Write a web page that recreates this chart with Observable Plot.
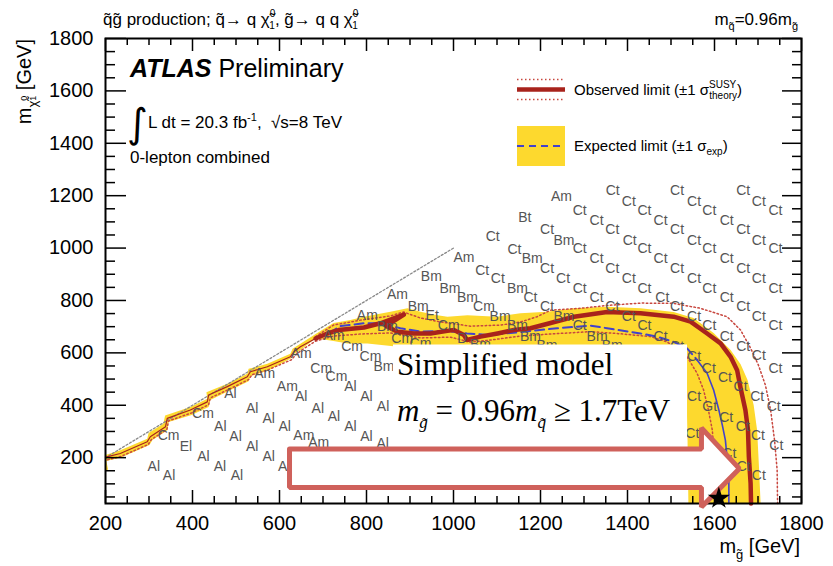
<!DOCTYPE html>
<html><head><meta charset="utf-8">
<script src="https://cdn.jsdelivr.net/npm/d3@7"></script>
<script src="https://cdn.jsdelivr.net/npm/@observablehq/plot@0.6"></script>
<style>body{margin:0;background:#fff;}</style>
</head><body><div id="chart"></div>
<script>
// ---------------- data ----------------
const xMajorTicks = [200,400,600,800,1000,1200,1400,1600,1800];
const yMajorTicks = [200,400,600,800,1000,1200,1400,1600,1800];

// observed limit: staircase part along the diagonal and main contour
const obsStairMg   = [203,234,296,303,338,342,395,434,437,480,526,533,572,625,633,648,683];
const obsStairMchi = [203,216,261,280,318,350,382,413,439,471,509,528,547,585,604,623,655];
const obsMg   = [683,710,736,794,832,886,845,871,909,947,986,1001,1024,1031,1062,1101,1139,1177,1221,1277,1353,1430,1506,1545,1583,1614,1637,1652,1660,1671,1677,1679,1683,1684];
const obsMchi = [655,674,687,697,713,746,703,681,674,674,684,687,668,649,662,674,687,694,713,738,756,751,738,719,674,636,585,534,466,382,305,203,102,25];

// expected limit (dashed upper part, then the steep part)
const expMg   = [683,725,740,794,832,878,924,986,1031,1085,1162,1238,1315,1353,1430,1468,1506,1537,1560];
const expMchi = [655,687,702,713,713,694,681,684,674,668,681,694,704,694,674,662,642,617,573];
const expSteepMg   = [1560,1583,1598,1610,1618,1625,1629,1633,1633];
const expSteepMchi = [573,522,458,382,324,267,199,122,25];

// observed +1 sigma theory
const upMg   = [683,724,786,855,885,924,970,1039,1108,1154,1192,1223,1292,1353,1430,1506,1568,1629,1660,1683,1701,1717,1729,1738,1744,1745];
const upMchi = [662,706,725,741,756,733,718,702,706,718,738,763,770,781,790,789,770,738,687,618,553,477,382,267,153,25];

// observed -1 sigma theory
const dnStairMg   = [205,236,298,306,341,345,398,437,441,483,529,537,575,628,637,652,683];
const dnStairMchi = [192,205,250,270,307,340,371,402,428,460,498,517,536,574,593,612,645];
const dnMg   = [683,724,786,855,924,993,1039,1085,1154,1223,1315,1376,1453,1491,1537,1560,1575,1586,1595,1600,1602];
const dnMchi = [645,664,672,676,657,660,641,649,664,672,681,674,662,642,585,522,458,382,305,191,25];

// expected +-1 sigma band (outline polygon)
const bandMg = [200,234,296,299,333,337,395,434,432,480,526,529,572,625,630,648,683,724,763,794,855,894,924,963,986,1032,1100,1154,1215,1277,1353,1430,1506,1552,1598,1637,1660,1676,1690,1698,1702,1706,
  1540,1538,1536,1531,1513,1476,1338,1108,970,878,802,756,724,683,648,632,628,575,533,529,483,441,437,398,345,342,308,301,237,202,206,200];
const bandMchi = [210,228,272,294,329,361,393,425,450,482,520,539,558,597,616,635,672,714,725,738,757,770,757,744,738,744,738,751,757,770,776,770,756,733,676,611,557,496,401,305,172,25,
  25,267,420,534,588,603,607,607,614,622,636,636,645,656,611,595,580,534,511,492,454,420,393,363,336,305,267,248,202,187,155,150];

// kinematic boundary
const diagMg = [200,1000];
const diagMchi = [200,1000];

// best signal-region labels
const labelText = [
 "Ct","Ct","Ct",
 "Ct","Ct","Ct","Ct","Ct","Ct","Ct",
 "Ct","Ct","Ct","Ct","Ct","Ct","Ct","Ct","Ct","Ct","Ct",
 "Am","Ct","Ct","Ct","Ct","Ct","Ct","Ct","Ct","Ct","Ct","Ct","Ct","Ct",
 "Bt","Ct","Bm","Ct","Ct","Ct","Ct","Ct","Ct","Ct","Ct","Ct","Ct","Ct","Ct","Ct",
 "Ct","Ct","Bm","Ct","Ct","Ct","Ct","Ct","Ct","Ct","Ct","Ct","Ct","Ct","Ct","Ct","Ct","Ct",
 "Am","Ct","Ct","Bm","Ct","Ct","Bm","Ct","Bm","Bm","Ct","Gt","Ct","Ct","Ct","Ct",
 "Bm","Bm","Bm","Cm","Bm","Bm","Bm","Bm","Ct","Ct","Ct","Ct",
 "Am","Bm","Et","Cm","D","Bm",
 "Am","Bm","Cm","Cm",
 "Am","Cm","Cm","Bm",
 "Am","Cm","Cm","Al","Al","Al",
 "Am","Am","Al","Al","Al","Al","Al","Al",
 "Al","Al","Al","Al","Am","Am",
 "Cm","Al","Al","Al","Al","Al",
 "Cm","El","Al","Al","Al",
 "Al","Al"];
const labelMg = [
 1666,1702,1740,
 1514,1553,1588,1628,1666,1702,1740,
 1366,1403,1439,1476,1514,1553,1588,1628,1666,1702,1740,
 1248,1290,1329,1365,1405,1439,1476,1514,1553,1588,1628,1666,1702,1740,
 1164,1215,1254,1290,1329,1365,1403,1439,1480,1514,1553,1588,1628,1666,1702,1740,
 1090,1140,1181,1215,1252,1290,1329,1365,1403,1439,1476,1514,1553,1587,1624,1660,1698,1736,
 1024,1066,1102,1147,1177,1215,1254,1290,1330,1365,1553,1589,1627,1665,1700,1742,
 949,992,1032,1070,1107,1147,1177,1215,1549,1634,1667,1702,
 871,919,951,989,1020,1062,
 802,848,882,924,
 725,767,809,840,
 650,696,731,763,800,838,
 566,618,650,688,725,763,800,837,
 487,537,575,612,656,690,
 424,464,499,537,575,611,
 345,385,425,463,502,
 311,346];
const labelMchi = [
 1219,1177,1142,
 1219,1177,1142,1104,1069,1030,999,
 1219,1177,1142,1104,1069,1030,999,961,922,884,846,
 1198,1142,1104,1069,1030,999,961,922,884,846,812,776,740,706,
 1117,1069,1030,999,961,922,884,846,812,776,740,706,661,623,588,541,
 1043,995,961,922,884,846,812,776,740,706,661,625,585,541,506,471,432,394,
 965,916,884,846,812,776,738,706,661,628,432,394,353,320,283,245,
 890,846,812,776,740,706,661,628,293,216,168,131,
 821,777,744,706,655,630,
 744,700,655,637,
 668,623,585,547,
 598,541,509,471,432,394,
 522,471,432,388,356,318,280,255,
 445,388,350,318,283,256,
 370,318,280,244,203,165,
 286,243,203,165,132,
 166,132];

// annotation overlay (white box, arrow, star), in data units
const boxMg = [862,1538];
const boxMchi = [260,630];
const arrowMg   = [623,1570,1570,1657,1570,1570,623,623];
const arrowMchi = [233,233,313,158,12,86,86,233];
const starMg = [1610];
const starMchi = [45];
const noteMg = [871];
const noteMchi = [515,337];

// ---------------- build ----------------
const zip = (a,b) => a.map((v,i)=>({mg:v, mchi:b[i]}));
const FONT = "'Liberation Sans', Arial, Helvetica, sans-serif";
const YELLOW = "#fdd92e", RED = "#a8231c", RED_DOT = "#c8473f", BLUE = "#4242cc", GRAY = "#555";
const W = 833, H = 566, mL = 105, mR = 32, mT = 38, mB = 63;
const iw = W - mL - mR, ih = H - mT - mB;
const xMinor = d3.range(250,1800,50).filter(v => v % 200 !== 0);
const yMinor = d3.range(50,1800,50).filter(v => v % 200 !== 0);
const labels = labelText.map((t,i)=>({t, mg:labelMg[i], mchi:labelMchi[i]}));

const plot = Plot.plot({
  width: W, height: H,
  marginLeft: mL, marginRight: mR, marginTop: mT, marginBottom: mB,
  style: {fontFamily: FONT, fontSize: "20px", color: "black", background: "white"},
  x: {domain: [200,1800], ticks: xMajorTicks, tickSize: 0, tickPadding: 12, label: null, tickFormat: d3.format("d")},
  y: {domain: [25,1800], ticks: yMajorTicks, tickSize: 0, tickPadding: 12, label: null, tickFormat: d3.format("d")},
  marks: [
    Plot.line(zip(bandMg,bandMchi), {x:"mg", y:"mchi", fill: YELLOW, stroke: "none"}),
    Plot.line(zip(diagMg,diagMchi), {x:"mg", y:"mchi", stroke:"#888", strokeWidth:1.3, strokeDasharray:"2,2"}),
    Plot.line(zip(dnStairMg,dnStairMchi), {x:"mg", y:"mchi", stroke:RED_DOT, strokeWidth:1.5, strokeDasharray:"1.5,2.5"}),
    Plot.line(zip(dnMg,dnMchi), {x:"mg", y:"mchi", stroke:RED_DOT, strokeWidth:1.5, strokeDasharray:"1.5,2.5"}),
    Plot.line(zip(upMg,upMchi), {x:"mg", y:"mchi", stroke:RED_DOT, strokeWidth:1.5, strokeDasharray:"1.5,2.5"}),
    Plot.line(zip(expMg,expMchi), {x:"mg", y:"mchi", stroke:BLUE, strokeWidth:2, strokeDasharray:"9,5"}),
    Plot.line(zip(expSteepMg,expSteepMchi), {x:"mg", y:"mchi", stroke:BLUE, strokeWidth:1.6}),
    Plot.line(zip(obsStairMg,obsStairMchi), {x:"mg", y:"mchi", stroke:RED, strokeWidth:1.2}),
    Plot.line(zip(obsMg,obsMchi), {x:"mg", y:"mchi", stroke:RED, strokeWidth:4.5, strokeLinejoin:"round"}),
    Plot.text(labels, {x:"mg", y:"mchi", text:"t", fill:GRAY, fontSize:14, textAnchor:"middle", lineAnchor:"middle"}),
    Plot.rect([{x1:boxMg[0], x2:boxMg[1], y1:boxMchi[0], y2:boxMchi[1]}], {x1:"x1", x2:"x2", y1:"y1", y2:"y2", fill:"white"}),
    // ticks (inward, mirrored)
    Plot.tickX(xMajorTicks, {x:d=>d, insetTop: ih-13, stroke:"black", strokeWidth:1.5}),
    Plot.tickX(xMinor, {x:d=>d, insetTop: ih-7, stroke:"black", strokeWidth:1.5}),
    Plot.tickX(xMajorTicks, {x:d=>d, insetBottom: ih-13, stroke:"black", strokeWidth:1.5}),
    Plot.tickX(xMinor, {x:d=>d, insetBottom: ih-7, stroke:"black", strokeWidth:1.5}),
    Plot.tickY(yMajorTicks, {y:d=>d, insetRight: iw-21, stroke:"black", strokeWidth:1.5}),
    Plot.tickY(yMinor, {y:d=>d, insetRight: iw-10, stroke:"black", strokeWidth:1.5}),
    Plot.tickY(yMajorTicks, {y:d=>d, insetLeft: iw-19, stroke:"black", strokeWidth:1.5}),
    Plot.tickY(yMinor, {y:d=>d, insetLeft: iw-9, stroke:"black", strokeWidth:1.5}),
    Plot.frame({stroke:"black", strokeWidth:2}),
    Plot.line(zip(arrowMg,arrowMchi), {x:"mg", y:"mchi", fill:"white", stroke:"#cf615b", strokeWidth:5, strokeLinejoin:"miter"}),
    Plot.dot(zip(starMg,starMchi), {x:"mg", y:"mchi", symbol:"star", r:7, fill:"black", stroke:"none"})
  ]
});
document.getElementById("chart").appendChild(plot);

// ---------------- overlay text ----------------
const sx = plot.scale("x"), sy = plot.scale("y");
const svg = d3.select(plot);
const g = svg.append("g").attr("font-family", FONT).attr("fill","black").attr("text-anchor","start");

// header
const t1 = g.append("text").attr("x",103).attr("y",25).attr("font-size",17);
t1.append("tspan").text("q\u0303g\u0303 production; q\u0303\u2192 q \u03c7\u0303");
t1.append("tspan").attr("font-size",10).attr("dy",-8).text("0");
t1.append("tspan").attr("font-size",10).attr("dx",-6).attr("dy",12).text("1");
t1.append("tspan").attr("dy",-4).text(", g\u0303\u2192 q q \u03c7\u0303");
t1.append("tspan").attr("font-size",10).attr("dy",-8).text("0");
t1.append("tspan").attr("font-size",10).attr("dx",-6).attr("dy",12).text("1");

const t2 = g.append("text").attr("x",798).attr("y",25).attr("font-size",17).attr("text-anchor","end");
t2.append("tspan").text("m");
t2.append("tspan").attr("font-size",11).attr("dy",5).text("q\u0303");
t2.append("tspan").attr("dy",-5).text("=0.96m");
t2.append("tspan").attr("font-size",11).attr("dy",5).text("g\u0303");

// axis titles
const yl = g.append("text").attr("transform","translate(31,39) rotate(-90)").attr("text-anchor","end").attr("font-size",20);
yl.append("tspan").text("m");
yl.append("tspan").attr("font-size",13).attr("dy",6).text("\u03c7\u0303");
yl.append("tspan").attr("font-size",9).attr("dy",-10).text("0");
yl.append("tspan").attr("font-size",9).attr("dx",-5).attr("dy",9).text("1");
yl.append("tspan").attr("dy",-5).text(" [GeV]");

const xl = g.append("text").attr("x",800).attr("y",553).attr("text-anchor","end").attr("font-size",20);
xl.append("tspan").text("m");
xl.append("tspan").attr("font-size",13).attr("dy",6).text("g\u0303");
xl.append("tspan").attr("dy",-6).text(" [GeV]");

// ATLAS block
const at = g.append("text").attr("x",130).attr("y",77).attr("font-size",25);
at.append("tspan").attr("font-weight","bold").attr("font-style","italic").text("ATLAS");
at.append("tspan").text(" Preliminary");
g.append("text").attr("x",127).attr("y",137).attr("font-size",40).attr("font-family","'DejaVu Sans', sans-serif").text("\u222b");
const lum = g.append("text").attr("x",148).attr("y",128).attr("font-size",17);
lum.append("tspan").text("L dt = 20.3 fb");
lum.append("tspan").attr("font-size",11).attr("dy",-7).text("-1");
lum.append("tspan").attr("dy",7).text(",  \u221as=8 TeV");
g.append("text").attr("x",130).attr("y",163).attr("font-size",17).text("0-lepton combined");

// legend
const lg = g.append("g");
[79.5, 99.5].forEach(yy => lg.append("line").attr("x1",517).attr("x2",565).attr("y1",yy).attr("y2",yy)
  .attr("stroke",RED_DOT).attr("stroke-width",1.5).attr("stroke-dasharray","1.5,2.5"));
lg.append("line").attr("x1",517).attr("x2",565).attr("y1",89.5).attr("y2",89.5).attr("stroke",RED).attr("stroke-width",4.5);
const ot = lg.append("text").attr("x",574).attr("y",95).attr("font-size",15);
ot.append("tspan").text("Observed limit (\u00b11 \u03c3");
ot.append("tspan").attr("font-size",10).attr("dy",-7).text("SUSY");
ot.append("tspan").attr("font-size",10).attr("dx",-27).attr("dy",11).text("theory");
ot.append("tspan").attr("dy",-4).text(")");
lg.append("rect").attr("x",517).attr("y",126).attr("width",48).attr("height",40).attr("fill",YELLOW);
lg.append("line").attr("x1",517).attr("x2",565).attr("y1",146).attr("y2",146).attr("stroke",BLUE).attr("stroke-width",2).attr("stroke-dasharray","7,5");
const et = lg.append("text").attr("x",574).attr("y",151).attr("font-size",15);
et.append("tspan").text("Expected limit (\u00b11 \u03c3");
et.append("tspan").attr("font-size",10).attr("dy",4).text("exp");
et.append("tspan").attr("dy",-4).text(")");

// annotation text
const SERIF = "'Liberation Serif', 'Times New Roman', serif";
g.append("text").attr("x",sx.apply(noteMg[0])).attr("y",sy.apply(noteMchi[0])).attr("font-family",SERIF).attr("font-size",31).text("Simplified model");
const n2 = g.append("text").attr("x",sx.apply(noteMg[0])).attr("y",sy.apply(noteMchi[1])).attr("font-family",SERIF).attr("font-size",31);
n2.append("tspan").attr("font-style","italic").text("m");
n2.append("tspan").attr("font-style","italic").attr("font-size",17).attr("dy",7).text("g\u0303");
n2.append("tspan").attr("dy",-7).text(" = 0.96");
n2.append("tspan").attr("font-style","italic").text("m");
n2.append("tspan").attr("font-style","italic").attr("font-size",17).attr("dy",7).text("q\u0303");
n2.append("tspan").attr("dy",-7).text(" \u2265 1.7TeV");
</script></body></html>
